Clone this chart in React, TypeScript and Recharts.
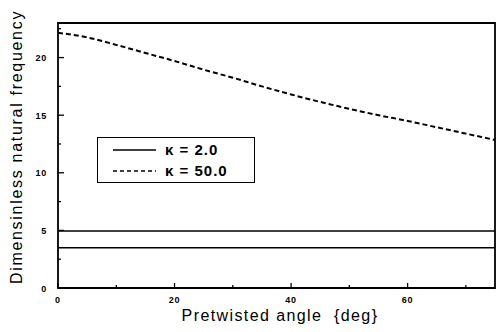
import { LineChart, Line, XAxis, YAxis, Legend, ReferenceArea } from 'recharts';

// pretwisted angle [deg]
const angles = [0, 5, 10, 15, 20, 25, 30, 35, 40, 45, 50, 55, 60, 65, 70, 75];
// kappa = 2.0, two modes (flat)
const kappa2Mode1 = [3.5, 3.5, 3.5, 3.5, 3.5, 3.5, 3.5, 3.5, 3.5, 3.5, 3.5, 3.5, 3.5, 3.5, 3.5, 3.5];
const kappa2Mode2 = [4.95, 4.95, 4.95, 4.95, 4.95, 4.95, 4.95, 4.95, 4.95, 4.95, 4.95, 4.95, 4.95, 4.95, 4.95, 4.95];
// kappa = 50.0
const kappa50 = [22.15, 21.75, 21.1, 20.4, 19.7, 18.95, 18.25, 17.5, 16.8, 16.15, 15.55, 15.0, 14.5, 13.95, 13.4, 12.85];

const xTicks = [0, 10, 20, 30, 40, 50, 60, 70];
const xLabeled = [0, 20, 40, 60];
const yTicks = [0, 2.5, 5, 7.5, 10, 12.5, 15, 17.5, 20, 22.5];
const yLabeled = [0, 5, 10, 15, 20];

const data = angles.map((a, i) => ({
  angle: a,
  k2a: kappa2Mode1[i],
  k2b: kappa2Mode2[i],
  k50: kappa50[i],
}));

const FONT = '"Liberation Sans", Arial, sans-serif';

function XTick(props: any) {
  const { x, y, payload } = props;
  const major = xLabeled.includes(payload.value);
  return (
    <g>
      <line x1={x} x2={x} y1={y} y2={y - (major ? 5 : 3)} stroke="#000" strokeWidth={1.3} />
      {major && (
        <text x={x} y={y + 15} textAnchor="middle" fontSize={9} fontWeight="bold" fontFamily={FONT} letterSpacing={0.8} fill="#000">
          {payload.value}
        </text>
      )}
    </g>
  );
}

function YTick(props: any) {
  const { x, y, payload } = props;
  const major = yLabeled.includes(payload.value);
  return (
    <g>
      <line x1={x} x2={x + (major ? 6 : 3)} y1={y} y2={y} stroke="#000" strokeWidth={1.3} />
      {major && (
        <text x={x - 11} y={y + 3.5} textAnchor="end" fontSize={9} fontWeight="bold" fontFamily={FONT} letterSpacing={0.8} fill="#000">
          {payload.value}
        </text>
      )}
    </g>
  );
}

function LegendBox() {
  const rows = [
    { label: 'κ = 2.0', dash: undefined },
    { label: 'κ = 50.0', dash: '4 3' },
  ];
  return (
    <div style={{ width: 158, height: 46, border: '1.5px solid #000', boxSizing: 'border-box', background: '#fff' }}>
      <svg width={155} height={43}>
        {rows.map((r, i) => (
          <g key={r.label}>
            <line x1={15} x2={58} y1={12 + i * 21} y2={12 + i * 21} stroke="#000" strokeWidth={1.5} strokeDasharray={r.dash} />
            <text x={67} y={17 + i * 21} fontSize={15} fontWeight="bold" fontFamily={FONT} letterSpacing={1} fill="#000">
              {r.label}
            </text>
          </g>
        ))}
      </svg>
    </div>
  );
}

export default function App() {
  return (
    <div style={{ width: 497, height: 332, background: '#fff' }}>
      <style>{'body{margin:0}'}</style>
      <LineChart width={497} height={332} data={data} margin={{ top: 23, right: 2, left: 0, bottom: 0 }}>
        <XAxis
          dataKey="angle"
          type="number"
          domain={[0, 75]}
          ticks={xTicks}
          tick={<XTick />}
          tickSize={0}
          tickMargin={0}
          height={44}
          axisLine={false}
          label={{
            content: () => (
              <text x={280} y={321} textAnchor="middle" fontSize={16} fontFamily={FONT} letterSpacing={1.4} fill="#000">
                {'Pretwisted angle\u00a0\u00a0{deg}'}
              </text>
            ),
          }}
        />
        <YAxis
          type="number"
          domain={[0, 23]}
          ticks={yTicks}
          tick={<YTick />}
          tickSize={0}
          tickMargin={0}
          width={58}
          axisLine={false}
          label={{
            content: () => (
              <text
                x={22}
                y={147}
                transform="rotate(-90 22 147)"
                textAnchor="middle"
                fontSize={16}
                fontFamily={FONT}
                letterSpacing={1.7}
                fill="#000"
              >
                Dimensinless natural frequency
              </text>
            ),
          }}
        />
        <ReferenceArea x1={0} x2={75} y1={0} y2={23} fill="none" stroke="#000" strokeWidth={1.8} />
        <Line dataKey="k2a" stroke="#000" strokeWidth={1.5} dot={false} isAnimationActive={false} />
        <Line dataKey="k2b" stroke="#000" strokeWidth={1.5} dot={false} isAnimationActive={false} />
        <Line type="monotone" dataKey="k50" stroke="#000" strokeWidth={2} strokeDasharray="5 3" dot={false} isAnimationActive={false} />
        <Legend
          layout="vertical"
          align="center"
          verticalAlign="middle"
          content={() => <LegendBox />}
          wrapperStyle={{ left: 97, top: 137, width: 158, height: 46 }}
        />
      </LineChart>
    </div>
  );
}
